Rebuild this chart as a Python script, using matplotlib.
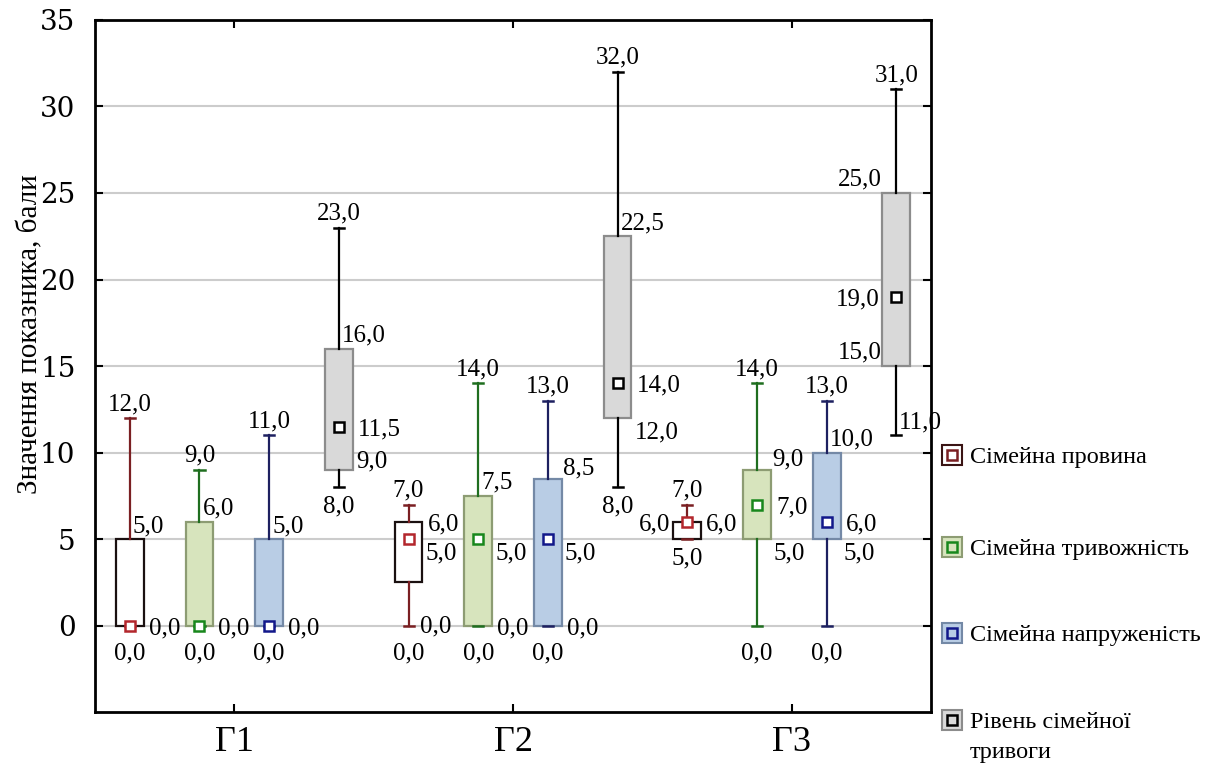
import numpy as np
import matplotlib.pyplot as plt
from matplotlib.lines import Line2D

plt.rcParams['font.family'] = ['Liberation Serif', 'DejaVu Serif']

groups = ['Г1', 'Г2', 'Г3']
series = ['Сімейна провина', 'Сімейна тривожність', 'Сімейна напруженість',
          'Рівень сімейної\nтривоги']

# min, Q1, median, Q3, max for each group
provyna_lo = [0, 0, 5]
provyna_q1 = [0, 2.5, 5]
provyna_med = [0, 5, 6]
provyna_q3 = [5, 6, 6]
provyna_hi = [12, 7, 7]

tryvozh_lo = [0, 0, 0]
tryvozh_q1 = [0, 0, 5]
tryvozh_med = [0, 5, 7]
tryvozh_q3 = [6, 7.5, 9]
tryvozh_hi = [9, 14, 14]

napruzh_lo = [0, 0, 0]
napruzh_q1 = [0, 0, 5]
napruzh_med = [0, 5, 6]
napruzh_q3 = [5, 8.5, 10]
napruzh_hi = [11, 13, 13]

riven_lo = [8, 8, 11]
riven_q1 = [9, 12, 15]
riven_med = [11.5, 14, 19]
riven_q3 = [16, 22.5, 25]
riven_hi = [23, 32, 31]

stats = [
    (provyna_lo, provyna_q1, provyna_med, provyna_q3, provyna_hi),
    (tryvozh_lo, tryvozh_q1, tryvozh_med, tryvozh_q3, tryvozh_hi),
    (napruzh_lo, napruzh_q1, napruzh_med, napruzh_q3, napruzh_hi),
    (riven_lo, riven_q1, riven_med, riven_q3, riven_hi),
]

# value labels printed next to each box: (value, placement)
labels = [
    [  # провина
        [(12, 'top'), (5, 'ur'), (0, 'r'), (0, 'bot')],
        [(7, 'top'), (6, 'r'), (5, 'rt'), (0, 'rc'), (0, 'bot')],
        [(7, 'top'), (6, 'l'), (6, 'r'), (5, 'bot2')],
    ],
    [  # тривожність
        [(9, 'top'), (6, 'ur'), (0, 'r'), (0, 'bot')],
        [(14, 'top'), (7.5, 'ur'), (5, 'rt'), (0, 'r'), (0, 'bot')],
        [(14, 'top'), (9, 'urb'), (7, 'r'), (5, 'rt'), (0, 'bot')],
    ],
    [  # напруженість
        [(11, 'top'), (5, 'ur'), (0, 'r'), (0, 'bot')],
        [(13, 'top'), (8.5, 'urb'), (5, 'rt'), (0, 'r'), (0, 'bot')],
        [(13, 'top'), (10, 'ur'), (6, 'r'), (5, 'rt'), (0, 'bot')],
    ],
    [  # рівень
        [(23, 'top'), (16, 'ur'), (11.5, 'r'), (9, 'rb'), (8, 'bot2')],
        [(32, 'top'), (22.5, 'ur'), (14, 'r'), (12, 'rt'), (8, 'bot2')],
        [(31, 'top'), (25, 'ul'), (19, 'l'), (15, 'ul'), (11, 'ur')],
    ],
]

place = {
    'top': (0, 8, 'center', 'baseline'),
    'ur': (3, 7, 'left', 'baseline'),
    'urb': (15, 4, 'left', 'baseline'),
    'r': (19, 0, 'left', 'center_baseline'),
    'rc': (11, 2, 'left', 'center_baseline'),
    'rb': (17, 2, 'left', 'baseline'),
    'rt': (17, -3, 'left', 'top'),
    'bot': (0, -17, 'center', 'top'),
    'bot2': (0, -8, 'center', 'top'),
    'l': (-17, 0, 'right', 'center_baseline'),
    'ul': (-15, 8, 'right', 'baseline'),
}

face = ['white', '#d7e4bd', '#b9cde5', '#d9d9d9']
edge = ['#1a1010', '#8d9c73', '#7489a6', '#8c8c8c']
whisk = ['#7a1f22', '#1f6e1f', '#1d2060', 'black']
mark = ['#b3262c', '#18871c', '#12188a', 'black']

offsets = [-0.375, -0.125, 0.125, 0.375]
centers = np.arange(len(groups))

fig = plt.figure(figsize=(12.1, 7.65), dpi=100)
ax = fig.add_axes([0.0785, 0.069, 0.691, 0.905])

for s in range(4):
    lo, q1, med, q3, hi = stats[s]
    bxstats = [dict(whislo=lo[g], q1=q1[g], med=med[g], q3=q3[g], whishi=hi[g],
                    fliers=[]) for g in range(3)]
    pos = centers + offsets[s]
    ax.bxp(bxstats, positions=pos, widths=0.1, capwidths=0.036, patch_artist=True,
           showfliers=False,
           boxprops=dict(facecolor=face[s], edgecolor=edge[s], linewidth=1.6),
           whiskerprops=dict(color=whisk[s], linewidth=1.6),
           capprops=dict(color=whisk[s], linewidth=1.8),
           medianprops=dict(linewidth=0), zorder=3)
    ax.plot(pos, med, linestyle='none', marker='s', markersize=7.5,
            markerfacecolor='white', markeredgecolor=mark[s], markeredgewidth=1.8,
            zorder=5)
    for g in range(3):
        for val, where in labels[s][g]:
            dx, dy, ha, va = place[where]
            ax.annotate(f'{val:.1f}'.replace('.', ','), xy=(pos[g], val),
                        xytext=(dx, dy), textcoords='offset pixels',
                        ha=ha, va=va, fontsize=18, zorder=6)

ax.set_xlim(-0.5, 2.5)
ax.set_ylim(-5, 35)
ax.set_yticks(range(0, 36, 5))
ax.set_xticks(centers)
ax.set_xticklabels(groups, fontsize=26)
for t in ax.get_yticklabels():
    t.set_fontfamily('DejaVu Serif')
    t.set_fontsize(20)
ax.tick_params(axis='y', direction='in', length=6, width=1.5, right=True, pad=14)
ax.tick_params(axis='x', direction='in', length=6, width=1.5, top=True, pad=10)
ax.grid(axis='y', color='#cccccc', linewidth=1.5, zorder=0)
ax.set_axisbelow(True)
for sp in ax.spines.values():
    sp.set_linewidth(2)

fig.text(30 / 1210, 1 - 334 / 765, 'Значення показника, бали', fontsize=21,
         rotation=90, ha='center', va='center')

# legend drawn by hand on the right
leg_y = [455, 547, 633, 720]
for s in range(4):
    yf = 1 - leg_y[s] / 765
    fig.add_artist(Line2D([952 / 1210], [yf], transform=fig.transFigure,
                          marker='s', markersize=14, markerfacecolor=face[s],
                          markeredgecolor=edge[s] if s else '#3a1414',
                          markeredgewidth=1.5, linestyle='none'))
    fig.add_artist(Line2D([952 / 1210], [yf], transform=fig.transFigure,
                          marker='s', markersize=6.5, markerfacecolor='none',
                          markeredgecolor=mark[s] if s else '#7a1f22',
                          markeredgewidth=1.8, linestyle='none'))
    lines = series[s].split('\n')
    fig.text(970 / 1210, yf, lines[0], fontsize=17.5, ha='left', va='center_baseline')
    if len(lines) > 1:
        fig.text(970 / 1210, 1 - 750 / 765, lines[1], fontsize=17.5, ha='left',
                 va='center_baseline')

fig.savefig('out.png', dpi=100)
